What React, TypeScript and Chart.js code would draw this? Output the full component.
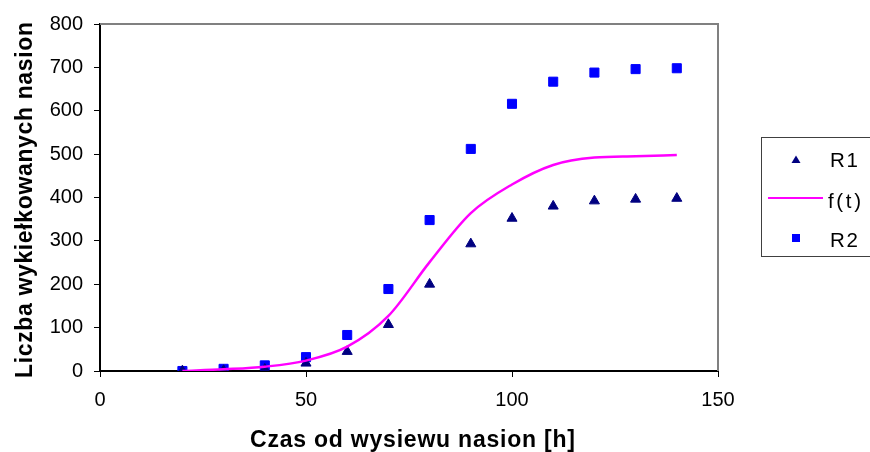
import React, { useEffect, useRef } from "react";
import { Chart, registerables } from "chart.js";

Chart.register(...registerables);

const hours = [20, 30, 40, 50, 60, 70, 80, 90, 100, 110, 120, 130, 140];
const r1Values = [0, 1, 4, 18, 45, 107, 200, 293, 352, 380, 392, 396, 398];
const r2Values = [0, 5, 13, 32, 83, 189, 348, 512, 616, 667, 688, 696, 698];
const fitValues = [0, 4, 10, 24, 56, 127, 251, 364, 430, 475, 492, 495, 498];
const xTickValues = [0, 50, 100, 150];
const yTickValues = [0, 100, 200, 300, 400, 500, 600, 700, 800];
const legendLabels = ["R1", "f(t)", "R2"];
const xTitle = "Czas od wysiewu nasion [h]";
const yTitle = "Liczba wykiełkowanych nasion";

const FONT = 'Arial, "Liberation Sans", sans-serif';
const NAVY = "#000080";
const BLUE = "#0000FF";
const MAGENTA = "#FF00FF";

function drawSpaced(ctx: CanvasRenderingContext2D, text: string, cx: number, y: number, target: number) {
  const chars = Array.from(text);
  const widths = chars.map((c) => ctx.measureText(c).width);
  const natural = widths.reduce((a, b) => a + b, 0);
  const gap = chars.length > 1 ? (target - natural) / (chars.length - 1) : 0;
  let x = cx - target / 2;
  ctx.textAlign = "left";
  chars.forEach((c, i) => {
    ctx.fillText(c, x, y);
    x += widths[i] + gap;
  });
}

function drawFit(ctx: CanvasRenderingContext2D, text: string, x: number, y: number, target: number) {
  const chars = Array.from(text);
  const widths = chars.map((c) => ctx.measureText(c).width);
  const natural = widths.reduce((a, b) => a + b, 0);
  const gap = chars.length > 1 ? (target - natural) / (chars.length - 1) : 0;
  ctx.textAlign = "left";
  let cur = x;
  chars.forEach((c, i) => {
    ctx.fillText(c, cur, y);
    cur += widths[i] + gap;
  });
}

const frameAndLegend = {
  id: "frameAndLegend",
  afterDraw(chart: any) {
    const { ctx, chartArea } = chart;
    ctx.save();
    // gray frame top & right
    ctx.strokeStyle = "#808080";
    ctx.lineWidth = 2;
    ctx.beginPath();
    ctx.moveTo(chartArea.left, chartArea.top);
    ctx.lineTo(chartArea.right, chartArea.top);
    ctx.lineTo(chartArea.right, chartArea.bottom);
    ctx.stroke();

    // axis titles
    ctx.fillStyle = "#000";
    ctx.font = `bold 23px ${FONT}`;
    ctx.textBaseline = "alphabetic";
    drawSpaced(ctx, xTitle, 412.5, 447, 325);
    ctx.save();
    ctx.translate(32, 200);
    ctx.rotate(-Math.PI / 2);
    drawSpaced(ctx, yTitle, 0, 0, 356);
    ctx.restore();

    // legend box
    ctx.strokeStyle = "#404040";
    ctx.lineWidth = 1;
    ctx.strokeRect(761.5, 137.5, 130, 119);

    ctx.font = `20.5px ${FONT}`;
    ctx.textBaseline = "alphabetic";

    // R1 triangle
    const ty = 160;
    ctx.fillStyle = NAVY;
    ctx.beginPath();
    ctx.moveTo(796, ty - 4.5);
    ctx.lineTo(800.5, ty + 3);
    ctx.lineTo(791.5, ty + 3);
    ctx.closePath();
    ctx.fill();
    ctx.fillStyle = "#000";
    drawFit(ctx, legendLabels[0], 830, 167.3, 28);

    // f(t) line
    const fy = 198;
    ctx.strokeStyle = MAGENTA;
    ctx.lineWidth = 2;
    ctx.beginPath();
    ctx.moveTo(768, fy);
    ctx.lineTo(823, fy);
    ctx.stroke();
    ctx.fillStyle = "#000";
    drawFit(ctx, legendLabels[1], 828, 208, 33);

    // R2 square
    const sy = 238;
    ctx.fillStyle = BLUE;
    ctx.fillRect(792, sy - 4, 8, 8);
    ctx.fillStyle = "#000";
    drawFit(ctx, legendLabels[2], 830, 246.7, 28);

    ctx.restore();
  },
};

export default function App() {
  const canvasRef = useRef<HTMLCanvasElement | null>(null);

  useEffect(() => {
    if (!canvasRef.current) return;
    const chart = new Chart(canvasRef.current, {
      type: "scatter",
      data: {
        datasets: [
          {
            label: legendLabels[0],
            data: hours.map((h, i) => ({ x: h, y: r1Values[i] })),
            pointStyle: "triangle",
            pointRadius: 5.8,
            backgroundColor: NAVY,
            borderColor: NAVY,
            borderWidth: 1,
            showLine: false,
            order: 2,
          },
          {
            label: legendLabels[1],
            data: hours.map((h, i) => ({ x: h, y: fitValues[i] })),
            showLine: true,
            pointRadius: 0,
            borderColor: MAGENTA,
            backgroundColor: MAGENTA,
            borderWidth: 2.5,
            cubicInterpolationMode: "monotone",
            order: 1,
          },
          {
            label: legendLabels[2],
            data: hours.map((h, i) => ({ x: h, y: r2Values[i] })),
            pointStyle: "rect",
            pointRadius: 6.4,
            backgroundColor: BLUE,
            borderColor: BLUE,
            borderWidth: 1,
            showLine: false,
            order: 3,
          },
        ],
      },
      options: {
        animation: false,
        responsive: true,
        maintainAspectRatio: false,
        layout: { padding: { left: 0, right: 152, top: 24, bottom: 0 } },
        plugins: {
          legend: { display: false },
          tooltip: { enabled: false },
        },
        scales: {
          x: {
            type: "linear",
            position: "bottom",
            min: 0,
            max: 150,
            afterBuildTicks: (scale: any) => {
              scale.ticks = xTickValues.map((v) => ({ value: v }));
            },
            afterFit: (scale: any) => {
              scale.height = 81;
            },
            ticks: {
              color: "#000",
              font: { family: FONT, size: 20 },
              padding: 11,
              maxRotation: 0,
            },
            grid: {
              display: true,
              drawOnChartArea: false,
              drawTicks: true,
              tickLength: 6,
              color: "#000",
              lineWidth: 1,
            },
            border: { display: true, color: "#000", width: 2 },
            title: { display: false },
          },
          y: {
            type: "linear",
            position: "left",
            min: 0,
            max: 800,
            afterBuildTicks: (scale: any) => {
              scale.ticks = yTickValues.map((v) => ({ value: v }));
            },
            afterFit: (scale: any) => {
              scale.width = 100;
            },
            ticks: {
              color: "#000",
              font: { family: FONT, size: 20 },
              padding: 11,
            },
            grid: {
              display: true,
              drawOnChartArea: false,
              drawTicks: true,
              tickLength: 6,
              color: "#000",
              lineWidth: 1,
            },
            border: { display: true, color: "#000", width: 2 },
            title: { display: false },
          },
        },
      },
      plugins: [frameAndLegend],
    } as any);
    return () => chart.destroy();
  }, []);

  return (
    <div style={{ position: "absolute", left: 0, top: 0, width: 870, height: 452, background: "#fff" }}>
      <canvas ref={canvasRef} />
    </div>
  );
}
